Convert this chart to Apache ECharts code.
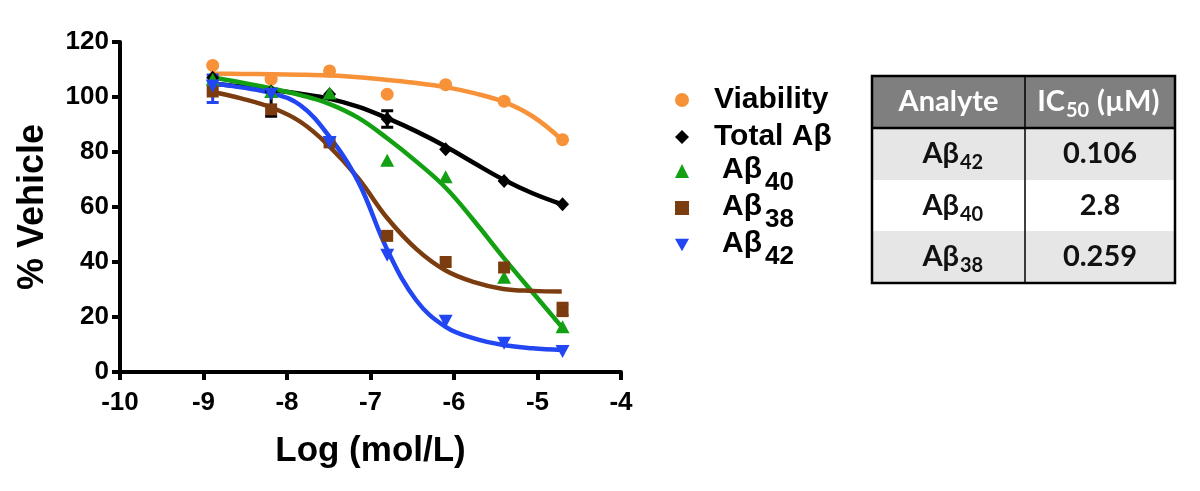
<!DOCTYPE html>
<html><head><meta charset="utf-8">
<script src="https://cdn.jsdelivr.net/npm/echarts@6/dist/echarts.min.js"></script>
<style>html,body{margin:0;padding:0;background:#fff}#c{width:1200px;height:491px}</style>
</head><body><div id="c"></div>
<script>
// ---- data ----
const logConc   = [-8.89, -8.19, -7.49, -6.80, -6.10, -5.40, -4.70];
const viability = [111.5, 106.5, 109.5, 101, 104.5, 98.5, 84.5];
const totalAb   = [107, 102, 101, 92, 81, 69.5, 61];
const ab40      = [106.5, 102, 101.5, 77, 71, 34.5, 16.5];
const ab38      = [102, 95.5, 83.5, 49.5, 40, 38, 22.5];
const ab42      = [104, 101, 83.5, 42.5, 18.5, 10.5, 7.5];

// fitted curves
const curveX       = [-8.92, -8.55, -8.17, -7.84, -7.51, -7.15, -6.80, -6.45, -6.10, -5.76, -5.41, -5.06, -4.71];
const fitViability = [108.5, 108.4, 108.3, 108.1, 107.8, 107.2, 106.2, 105.1, 103.6, 101.4, 98.3, 93, 84.5];
const fitTotalAb   = [105, 103.8, 102.5, 101.2, 99.5, 96.5, 92.3, 87.5, 82, 76, 70, 65, 61];
const fitAb40      = [107.3, 105.3, 103, 100.7, 97.7, 92.5, 85, 76.5, 67, 55, 41.7, 29, 16.4];
const fitAb38      = [102, 99.5, 96, 91, 82.6, 70.6, 56, 44.7, 36.9, 32.7, 30.2, 29.5, 29.3];
const fitAb42      = [105, 103.5, 101.3, 97, 86.3, 69.4, 44.5, 26, 16.4, 12.2, 9.8, 8.6, 8];

// error bars
const errSeries = ['Aβ42', 'Total Aβ', 'Total Aβ', 'Aβ38'];
const errX      = [-8.89, -8.19, -6.80, -4.70];
const errLow    = [98, 93, 89, 20.5];
const errHigh   = [108, 102, 95, 25];

const seriesNames = ['Viability', 'Total Aβ', 'Aβ40', 'Aβ38', 'Aβ42'];
const xTicks = [-10, -9, -8, -7, -6, -5, -4];
const yTicks = [0, 20, 40, 60, 80, 100, 120];

// table
const tableHead    = ['Analyte', 'IC', '50', '(µM)'];
const tableAnalyte = ['42', '40', '38'];
const tableIC50    = ['0.106', '2.8', '0.259'];

// ---- styles ----
const colors = {'Viability':'#f79239','Total Aβ':'#000000','Aβ40':'#13a013','Aβ38':'#7b3d10','Aβ42':'#2246f2'};
const symbols = {'Viability':'circle','Total Aβ':'diamond','Aβ40':'triangle','Aβ38':'rect','Aβ42':'path://M0,0L20,0L10,18Z'};
const symSize = {'Viability':13,'Total Aβ':[13,14],'Aβ40':[14,13],'Aβ38':12,'Aβ42':[14,13]};
const pointSets = [viability, totalAb, ab40, ab38, ab42];
const fitSets = [fitViability, fitTotalAb, fitAb40, fitAb38, fitAb42];
const FF = '"Liberation Sans", Arial, sans-serif';

const series = [];
seriesNames.forEach((n, i) => {
  series.push({
    type: 'line', name: n + ' fit', data: curveX.map((x, k) => [x, fitSets[i][k]]),
    smooth: 0.4, showSymbol: false, symbol: 'none', silent: true,
    lineStyle: {color: colors[n], width: 4.5}, z: 2
  });
});
seriesNames.forEach((n, i) => {
  series.push({
    type: 'scatter', name: n, data: logConc.map((x, k) => [x, pointSets[i][k]]),
    symbol: symbols[n], symbolSize: symSize[n],
    itemStyle: {color: colors[n], opacity: 1}, z: 3
  });
});
series.push({
  type: 'custom', name: 'err', z: 3, silent: true,
  data: errX.map((x, k) => [x, errLow[k], errHigh[k], k]),
  renderItem: function (params, api) {
    const k = api.value(3);
    const lo = api.coord([api.value(0), api.value(1)]);
    const hi = api.coord([api.value(0), api.value(2)]);
    const c = colors[errSeries[k]];
    const w = 6;
    const st = {stroke: c, lineWidth: 3};
    return {type: 'group', children: [
      {type: 'line', shape: {x1: lo[0], y1: lo[1], x2: hi[0], y2: hi[1]}, style: st},
      {type: 'line', shape: {x1: lo[0]-w, y1: lo[1], x2: lo[0]+w, y2: lo[1]}, style: st},
      {type: 'line', shape: {x1: hi[0]-w, y1: hi[1], x2: hi[0]+w, y2: hi[1]}, style: st}
    ]};
  }
});

// legends (one per entry for exact placement)
const legendCenters = [100, 137, 173, 210, 247];
const legends = seriesNames.map((n, i) => {
  const sub = /^Aβ\d+$/.test(n);
  return {
    show: true, selectedMode: false, padding: 0, orient: 'vertical',
    left: 675, top: legendCenters[i] - (sub ? 27 : 15),
    itemWidth: 14, itemHeight: 14,
    data: [n],
    formatter: function (name) {
      return sub ? '{a|Aβ}{s|' + name.slice(2) + '}' : name;
    },
    textStyle: {
      fontFamily: FF, fontWeight: 'bold', fontSize: 30, color: '#000', lineHeight: 30,
      padding: [0, 0, 0, sub ? 28 : 20],
      rich: {
        a: {fontFamily: FF, fontWeight: 'bold', fontSize: 30, color: '#000', lineHeight: 30, padding: [0, 0, 2, 0]},
        s: {fontFamily: FF, fontWeight: 'bold', fontSize: 26, color: '#000', lineHeight: 30, padding: [24, 0, 0, 3]}
      }
    }
  };
});

// table graphics
const TX = [872, 1025, 1175];
const TY = [76, 128, 180, 231, 283];
const TFF = 'Lato, "Open Sans", sans-serif';
const g = [];
g.push({type: 'rect', shape: {x: TX[0], y: TY[0], width: TX[2]-TX[0], height: TY[1]-TY[0]}, style: {fill: '#7f7f7f'}});
const rowFill = ['#e6e6e6', '#ffffff', '#e6e6e6'];
tableAnalyte.forEach((a, r) => {
  g.push({type: 'rect', shape: {x: TX[0], y: TY[r+1], width: TX[2]-TX[0], height: TY[r+2]-TY[r+1]}, style: {fill: rowFill[r]}});
});
const txt = (t, x, y, fill, size, align) => ({
  type: 'text', x: x, y: y, z: 10,
  style: {text: t, fill: fill, align: align, verticalAlign: 'middle',
          fontFamily: TFF, fontWeight: 'bold', fontSize: size}
});
const hc = (TY[0]+TY[1])/2;
g.push(txt(tableHead[0], (TX[0]+TX[1])/2, hc, '#ffffff', 29, 'center'));
g.push(txt(tableHead[1], 1065, hc, '#ffffff', 29, 'right'));
g.push(txt(tableHead[2], 1066, hc + 9, '#ffffff', 20, 'left'));
g.push(txt(tableHead[3], 1097, hc, '#ffffff', 29, 'left'));
tableAnalyte.forEach((a, r) => {
  const cy = (TY[r+1]+TY[r+2])/2;
  g.push(txt('Aβ', 959, cy, '#111', 29, 'right'));
  g.push(txt(a, 960, cy + 9, '#111', 20, 'left'));
  g.push(txt(tableIC50[r], (TX[1]+TX[2])/2, cy, '#111', 29, 'center'));
});
g.push({type: 'line', z: 11, shape: {x1: TX[1], y1: TY[0], x2: TX[1], y2: TY[4]}, style: {stroke: '#000', lineWidth: 1.5}});
g.push({type: 'line', z: 11, shape: {x1: TX[0], y1: TY[1], x2: TX[2], y2: TY[1]}, style: {stroke: '#000', lineWidth: 2.5}});
g.push({type: 'rect', z: 11, shape: {x: TX[0], y: TY[0], width: TX[2]-TX[0], height: TY[4]-TY[0]}, style: {fill: 'none', stroke: '#000', lineWidth: 2.5}});

const chart = echarts.init(document.getElementById('c'), null, {renderer: 'canvas'});
chart.setOption({
  animation: false,
  backgroundColor: '#ffffff',
  grid: {left: 120, right: 579, top: 42, bottom: 119, containLabel: false, outerBoundsMode: 'none'},
  xAxis: {
    type: 'value', min: xTicks[0], max: xTicks[xTicks.length-1], interval: 1,
    name: 'Log (mol/L)', nameLocation: 'middle', nameGap: 62,
    nameTextStyle: {fontFamily: FF, fontWeight: 'bold', fontSize: 35, color: '#000'},
    axisLine: {show: true, onZero: false, lineStyle: {color: '#000', width: 4}},
    axisTick: {show: true, length: 8, lineStyle: {color: '#000', width: 4}},
    axisLabel: {fontFamily: FF, fontWeight: 'bold', fontSize: 26, color: '#000', margin: 18},
    splitLine: {show: false}
  },
  yAxis: {
    type: 'value', min: yTicks[0], max: yTicks[yTicks.length-1], interval: 20,
    name: '% Vehicle', nameLocation: 'middle', nameGap: 69, nameRotate: 90,
    nameTextStyle: {fontFamily: FF, fontWeight: 'bold', fontSize: 36, color: '#000'},
    axisLine: {show: true, onZero: false, lineStyle: {color: '#000', width: 4}},
    axisTick: {show: true, length: 8, lineStyle: {color: '#000', width: 4}},
    axisLabel: {fontFamily: FF, fontWeight: 'bold', fontSize: 26, color: '#000', margin: 11},
    splitLine: {show: false}
  },
  legend: legends,
  graphic: g,
  series: series
});
</script></body></html>
